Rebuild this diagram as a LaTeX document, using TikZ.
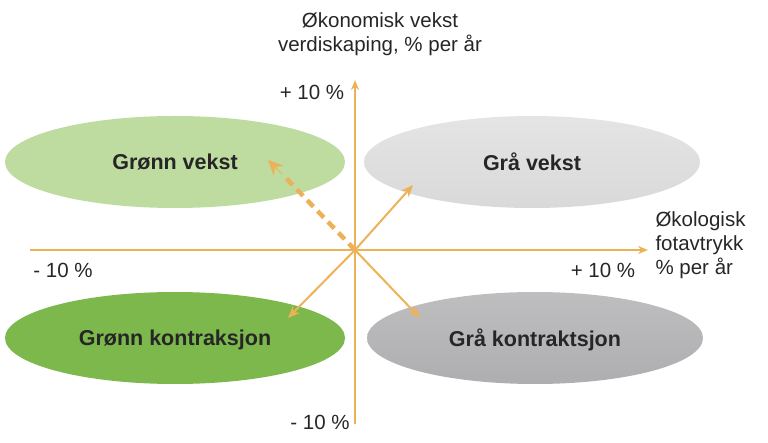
\documentclass[tikz,border=0pt]{standalone}
\usepackage{fontspec}
\setmainfont{Liberation Sans}
\usetikzlibrary{arrows.meta}
\definecolor{ax}{HTML}{EDB257}
\definecolor{lg}{HTML}{BEDBA0}
\definecolor{dg}{HTML}{7CB84C}
\definecolor{lgr}{HTML}{D9D9DA}
\definecolor{dgr}{HTML}{AEAEB0}
\begin{document}
\begin{tikzpicture}[x=1pt,y=1pt,
 lab/.style={font=\bfseries\fontsize{21.5}{24}\selectfont,text=black!85},
 axl/.style={font=\fontsize{20.5}{24}\selectfont,text=black!85},
 axis/.style={ax,line width=1.6pt,-{Stealth[length=10pt,width=8pt]}},
 arr/.style={ax,line width=2pt,-{Stealth[length=12pt,width=10pt]}}]
\useasboundingbox (0,0) rectangle (768,442);
\fill[lg] (175,280) ellipse [x radius=170,y radius=46];
\shade[top color=lgr!70,bottom color=lgr] (532,280) ellipse [x radius=168,y radius=46];
\fill[dg] (175,104) ellipse [x radius=170,y radius=46];
\shade[top color=dgr!80,bottom color=dgr] (535,104) ellipse [x radius=168,y radius=46];
\node[lab] (gv) at (175,280) {Grønn vekst};
\node[lab] (grv) at (532,280) {Grå vekst};
\node[lab] (gk) at (175,102) {Grønn kontraksjon};
\node[lab] (grk) at (535,102) {Grå kontraktsjon};
\coordinate (o) at (355,192);
\coordinate (xl) at (30,192);
\coordinate (xr) at (648,192);
\coordinate (yb) at (355,18);
\coordinate (yt) at (355,362);
\draw[axis] (xl) -- (xr);
\draw[axis] (yb) -- (yt);
\coordinate (a1) at (413,257);
\coordinate (a2) at (288,124);
\coordinate (a3) at (420,124);
\coordinate (a4) at (268,282);
\draw[arr] (o) -- (a1);
\draw[arr] (o) -- (a2);
\draw[arr] (o) -- (a3);
\draw[ax,line width=4.5pt,dash pattern=on 9pt off 6pt] (o) -- (284,266);
\draw[ax,line width=1pt,-{Stealth[length=15pt,width=14pt]}] (282,268) -- (a4);
\fill[ax] (o) circle (2.5pt);
\node[axl,align=center] (yl) at (380,408) {Økonomisk vekst\\verdiskaping, \% per år};
\node[axl] (p1) at (312,350) {+ 10 \%};
\node[axl] (m1) at (63,172) {- 10 \%};
\node[axl] (p2) at (603,172) {+ 10 \%};
\node[axl] (m2) at (320,20) {- 10 \%};
\node[axl,align=left,anchor=west] (xlab) at (652,197) {Økologisk\\fotavtrykk\\\% per år};
\end{tikzpicture}
\end{document}
